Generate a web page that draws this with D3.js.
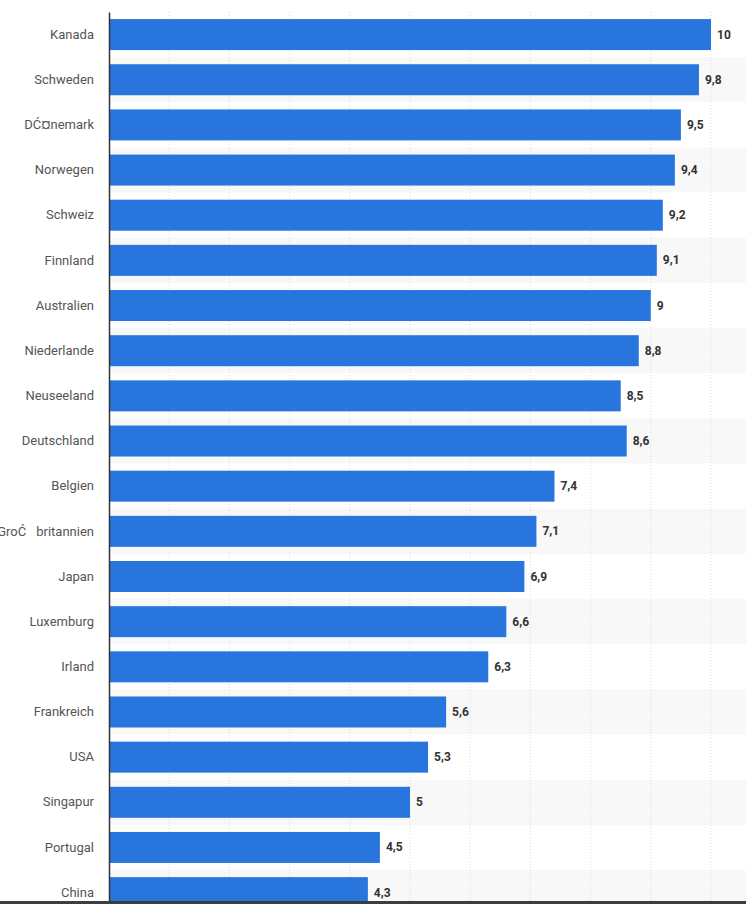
<head>
<script src="https://d3js.org/d3.v7.js"></script>
</head>
<body style="margin:0;background:#fff">
<div id="content"></div>
</body>
<script>
const countries = ["Kanada","Schweden","Dänemark","Norwegen","Schweiz","Finnland","Australien","Niederlande","Neuseeland","Deutschland","Belgien","Großbritannien","Japan","Luxemburg","Irland","Frankreich","USA","Singapur","Portugal","China"];
const values = [10,9.8,9.5,9.4,9.2,9.1,9,8.8,8.5,8.6,7.4,7.1,6.9,6.6,6.3,5.6,5.3,5,4.5,4.3];
const ticks = [1,2,3,4,5,6,7,8,9,10];

const width = 746, height = 904;
const marginLeft = 109, marginTop = 12;
const svg = d3.select("#content").append("svg").attr("width", width).attr("height", height);

const x = d3.scaleLinear().domain([0, 10]).range([marginLeft, 711]);
const y = d3.scaleBand().domain(countries).range([marginTop, marginTop + 45.16 * countries.length]).paddingInner(0).paddingOuter(0);

// alternating row bands
svg.append("g").selectAll("rect").data(countries).enter().append("rect")
  .attr("x", marginLeft).attr("y", d => y(d)).attr("width", width - marginLeft).attr("height", y.bandwidth())
  .attr("fill", (d, i) => i % 2 ? "#f8f8f8" : "#fff");

// grid
svg.append("g").selectAll("line").data(ticks).enter().append("line")
  .attr("x1", d => x(d)).attr("x2", d => x(d)).attr("y1", marginTop).attr("y2", height)
  .attr("stroke", "#ddd").attr("stroke-dasharray", "1,2");

// bars
const barH = 31;
svg.append("g").selectAll("rect").data(values).enter().append("rect")
  .attr("x", x(0)).attr("y", (d, i) => y(countries[i]) + (y.bandwidth() - barH) / 2)
  .attr("width", d => x(d) - x(0)).attr("height", barH).attr("fill", "#2876dd");

// value labels
svg.append("g").selectAll("text").data(values).enter().append("text")
  .attr("x", d => x(d) + 6).attr("y", (d, i) => y(countries[i]) + y.bandwidth() / 2 + 4)
  .attr("font-family", "Roboto, sans-serif").attr("font-size", 12).attr("font-weight", "bold")
  .attr("fill", "#333").text(d => String(d).replace(".", ","));

// category axis
const yAxis = svg.append("g").attr("transform", `translate(${marginLeft},0)`)
  .call(d3.axisLeft(y).tickSize(0).tickPadding(15));
yAxis.select(".domain").attr("stroke", "#333").attr("stroke-width", 1.5);
yAxis.selectAll("text").attr("font-family", "Roboto, sans-serif").attr("font-size", 13).attr("fill", "#555");

// bottom dark strip
svg.append("rect").attr("x", 0).attr("y", 901).attr("width", width).attr("height", 3).attr("fill", "#3a3f44");
</script>
